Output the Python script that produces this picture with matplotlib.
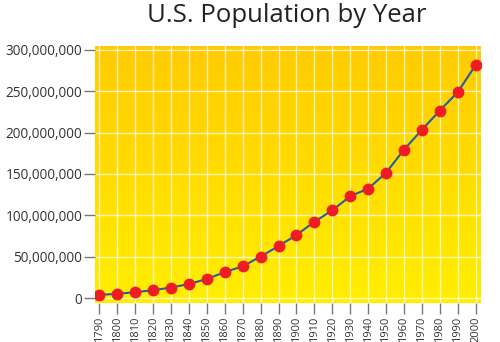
import matplotlib
matplotlib.use("Agg")
import matplotlib.pyplot as plt
import numpy as np
from matplotlib.colors import LinearSegmentedColormap
from matplotlib.ticker import FuncFormatter

years = [1790, 1800, 1810, 1820, 1830, 1840, 1850, 1860, 1870, 1880, 1890,
         1900, 1910, 1920, 1930, 1940, 1950, 1960, 1970, 1980, 1990, 2000]
population = [3929214, 5308483, 7239881, 9638453, 12866020, 17069453,
              23191876, 31443321, 38558371, 50189209, 62979766, 76212168,
              92228496, 106021537, 123202624, 132164569, 151325798,
              179323175, 203211926, 226545805, 248709873, 281421906]
y_ticks = [0, 50000000, 100000000, 150000000, 200000000, 250000000, 300000000]
title = "U.S. Population by Year"

plt.rcParams['font.family'] = ['Open Sans', 'DejaVu Sans']

fig = plt.figure(figsize=(5, 3.42), dpi=100)
ax = fig.add_axes([95/500, 1-303/342, (481-95)/500, (303-46)/342])

xmin, xmax = 1787.6, 2003.0
ymin, ymax = -5.8e6, 304.5e6
ax.set_xlim(xmin, xmax)
ax.set_ylim(ymin, ymax)

cmap = LinearSegmentedColormap.from_list("g", ["#FFEE00", "#FFCB00"])
grad = np.linspace(0, 1, 256).reshape(-1, 1)
ax.imshow(grad, cmap=cmap, aspect='auto', extent=[xmin, xmax, ymin, ymax],
          origin='lower', zorder=0)

for yr in years:
    ax.axvline(yr, color='white', lw=1, alpha=0.7, zorder=1)
for t in y_ticks:
    ax.axhline(t, color='white', lw=1, alpha=0.7, zorder=1)

ax.plot(years, population, color='#1F5FA8', lw=1.5, zorder=2)
ax.plot(years, population, 'o', ms=7.5, color='#EE1C25', mec='#EE1C25', zorder=3)

for s in ax.spines.values():
    s.set_visible(False)

ax.set_xticks(years)
ax.set_xticklabels([str(y) for y in years], rotation=90, fontsize=8, color='#333333')
ax.set_yticks(y_ticks)
ax.yaxis.set_major_formatter(FuncFormatter(lambda v, p: f"{int(v):,}"))
ax.tick_params(axis='y', labelsize=9.8, colors='#333333', length=8, width=1,
               color='#777777', pad=1)
ax.tick_params(axis='x', length=8, width=1, color='#777777', pad=2)

fig.text(0.574, 0.955, title, ha='center', va='center', fontsize=18.5, color='#222222')

fig.savefig("out.png", dpi=100)
